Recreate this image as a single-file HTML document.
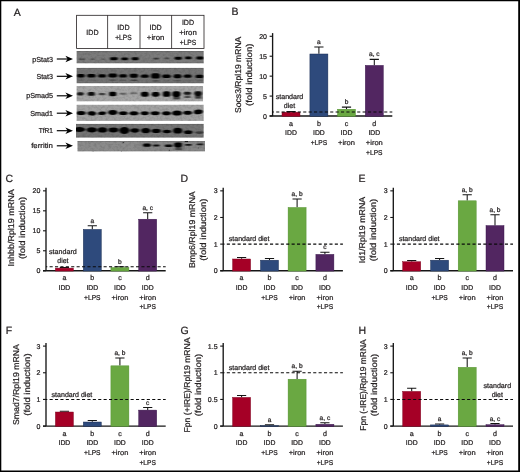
<!DOCTYPE html>
<html lang="en"><head><meta charset="utf-8"><title>Figure</title>
<style>html,body{margin:0;padding:0;background:#fff}svg{display:block}text{white-space:pre;stroke:#231f20;stroke-width:0.24px;paint-order:stroke;text-rendering:geometricPrecision}</style></head>
<body>
<svg width="520" height="472" viewBox="0 0 520 472" font-family='"Liberation Sans", sans-serif' fill="#231f20">
<defs>
</defs>
<rect x="0" y="0" width="520" height="472" fill="#fff"/>
<g opacity="0.999">
<text x="13.80" y="15.50" font-size="10.5" text-anchor="start">A</text>
<rect x="76.6" y="15.3" width="127.4" height="33.1" fill="#fff" stroke="#231f20" stroke-width="0.8"/>
<path d="M107.6 15.3V48.4" stroke="#231f20" stroke-width="0.8"/>
<path d="M140.0 15.3V48.4" stroke="#231f20" stroke-width="0.8"/>
<path d="M171.6 15.3V48.4" stroke="#231f20" stroke-width="0.8"/>
<text x="92.40" y="34.90" font-size="7.5" text-anchor="middle" textLength="12.2" lengthAdjust="spacingAndGlyphs">IDD</text>
<text x="123.40" y="30.03" font-size="7.5" text-anchor="middle" textLength="12.2" lengthAdjust="spacingAndGlyphs">IDD</text>
<text x="123.40" y="39.78" font-size="7.5" text-anchor="middle" textLength="16.4" lengthAdjust="spacingAndGlyphs">+LPS</text>
<text x="155.60" y="30.03" font-size="7.5" text-anchor="middle" textLength="12.2" lengthAdjust="spacingAndGlyphs">IDD</text>
<text x="155.60" y="39.78" font-size="7.5" text-anchor="middle" textLength="17.5" lengthAdjust="spacingAndGlyphs">+iron</text>
<text x="188.00" y="25.15" font-size="7.5" text-anchor="middle" textLength="12.2" lengthAdjust="spacingAndGlyphs">IDD</text>
<text x="188.00" y="34.90" font-size="7.5" text-anchor="middle" textLength="17.5" lengthAdjust="spacingAndGlyphs">+iron</text>
<text x="188.00" y="44.65" font-size="7.5" text-anchor="middle" textLength="16.4" lengthAdjust="spacingAndGlyphs">+LPS</text>
<filter id="grain" x="0" y="0" width="100%" height="100%"><feTurbulence type="fractalNoise" baseFrequency="0.35 0.45" numOctaves="2" seed="7" result="n"/><feColorMatrix in="n" type="matrix" values="0 0 0 0 0  0 0 0 0 0  0 0 0 0 0  0.9 0 0 0 -0.36"/></filter>
<filter id="smear" x="-20%" y="-100%" width="140%" height="300%"><feGaussianBlur stdDeviation="1.2 0.7"/></filter>
<filter id="fpStat3" x="-10%" y="-40%" width="120%" height="180%"><feGaussianBlur stdDeviation="0.85 0.6"/></filter>
<svg x="76.4" y="50.9" width="127.4" height="12.6" viewBox="76.4 50.9 127.4 12.6" overflow="hidden">
<rect x="76.4" y="50.9" width="127.4" height="12.6" fill="#7b7b7b"/>

<g filter="url(#fpStat3)">
<rect x="79.2" y="58.32" width="2.40" height="1.76" rx="0.88" fill="#000" opacity="0.5"/>
<rect x="82.4" y="58.32" width="2.20" height="1.76" rx="0.88" fill="#000" opacity="0.5"/>
<rect x="90.4" y="58.53" width="4.40" height="1.54" rx="0.77" fill="#000" opacity="0.28"/>
<rect x="101" y="58.53" width="4.40" height="1.54" rx="0.77" fill="#000" opacity="0.22"/>
<rect x="110.0" y="57.31" width="7.80" height="2.97" rx="1.49" fill="#000" opacity="1"/>
<rect x="121.2" y="57.42" width="7.00" height="2.75" rx="1.38" fill="#000" opacity="1"/>
<rect x="131.6" y="57.31" width="7.10" height="2.97" rx="1.49" fill="#000" opacity="1"/>
<rect x="144" y="58.14" width="4.00" height="1.32" rx="0.66" fill="#000" opacity="0.12"/>
<rect x="153.2" y="57.72" width="5.60" height="1.76" rx="0.88" fill="#000" opacity="0.55"/>
<rect x="164.2" y="57.57" width="5.20" height="1.65" rx="0.83" fill="#000" opacity="0.42"/>
<rect x="174.6" y="56.72" width="7.20" height="2.97" rx="1.49" fill="#000" opacity="1"/>
<rect x="185.0" y="56.52" width="6.60" height="2.75" rx="1.38" fill="#000" opacity="1"/>
<rect x="196.2" y="56.57" width="7.40" height="2.86" rx="1.43" fill="#000" opacity="1"/>
</g>
<rect x="76.4" y="50.9" width="127.4" height="12.6" fill="#000" filter="url(#grain)" opacity="0.3"/>
<rect x="76.4" y="50.9" width="127.4" height="0.9" fill="#000" opacity="0.13"/>
<rect x="76.4" y="62.60" width="127.4" height="0.9" fill="#000" opacity="0.12"/>
</svg>
<text x="53.00" y="61.50" font-size="7.2" text-anchor="end">pStat3</text>
<path d="M56.8 59.0H68" stroke="#000" stroke-width="1.15" fill="none"/>
<path d="M73.0 59.0L65.4 55.8L67.6 59.0L65.4 62.2Z" fill="#000"/>
<filter id="fStat3" x="-10%" y="-40%" width="120%" height="180%"><feGaussianBlur stdDeviation="0.95 0.55"/></filter>
<svg x="76.4" y="67.7" width="127.4" height="15.7" viewBox="76.4 67.7 127.4 15.7" overflow="hidden">
<rect x="76.4" y="67.7" width="127.4" height="15.7" fill="#747474"/>
<g filter="url(#smear)" fill="#000"><rect x="78" y="79.5" width="6" height="1.4" opacity="0.16"/><rect x="88.5" y="79.5" width="6.0" height="1.4" opacity="0.12"/><rect x="109.5" y="79.4" width="7.0" height="1.4" opacity="0.3"/><rect x="120" y="79.5" width="6.5" height="1.4" opacity="0.2"/><rect x="130.5" y="79.6" width="7.0" height="1.4" opacity="0.38"/><rect x="152" y="80.2" width="7.5" height="1.4" opacity="0.3"/><rect x="163" y="80" width="7" height="1.4" opacity="0.1"/><rect x="174.5" y="80" width="6.5" height="1.4" opacity="0.25"/><rect x="184.5" y="80" width="6.5" height="1.4" opacity="0.1"/><rect x="196" y="79.8" width="7" height="1.4" opacity="0.15"/><rect x="110" y="70.4" width="6" height="1.4" opacity="0.08"/><rect x="131" y="70.4" width="6" height="1.4" opacity="0.08"/><rect x="152" y="70.2" width="7" height="1.4" opacity="0.12"/></g>
<g filter="url(#fStat3)">
<rect x="76.9" y="74.08" width="7.80" height="3.43" rx="1.72" fill="#000" opacity="1"/>
<rect x="87.1" y="74.04" width="8.50" height="3.52" rx="1.76" fill="#000" opacity="1"/>
<rect x="98.2" y="74.27" width="7.80" height="3.26" rx="1.63" fill="#000" opacity="1"/>
<rect x="108.3" y="73.38" width="8.90" height="4.05" rx="2.02" fill="#000" opacity="1"/>
<rect x="119.1" y="74.23" width="7.90" height="3.34" rx="1.67" fill="#000" opacity="1"/>
<rect x="129.6" y="73.63" width="8.50" height="4.14" rx="2.07" fill="#000" opacity="1"/>
<rect x="140.9" y="74.62" width="7.80" height="3.17" rx="1.58" fill="#000" opacity="1"/>
<rect x="151.1" y="73.35" width="8.90" height="5.10" rx="2.55" fill="#000" opacity="1"/>
<rect x="162.2" y="74.44" width="8.50" height="3.52" rx="1.76" fill="#000" opacity="1"/>
<rect x="173.6" y="74.36" width="7.80" height="3.87" rx="1.94" fill="#000" opacity="1"/>
<rect x="183.8" y="74.53" width="7.80" height="3.34" rx="1.67" fill="#000" opacity="1"/>
<rect x="195.5" y="74.73" width="7.90" height="3.34" rx="1.67" fill="#000" opacity="1"/>
</g>
<rect x="76.4" y="67.7" width="127.4" height="15.7" fill="#000" filter="url(#grain)" opacity="0.3"/>
<rect x="76.4" y="67.7" width="127.4" height="0.9" fill="#000" opacity="0.13"/>
<rect x="76.4" y="82.50" width="127.4" height="0.9" fill="#000" opacity="0.12"/>
</svg>
<text x="53.00" y="78.80" font-size="7.2" text-anchor="end" textLength="16.6" lengthAdjust="spacingAndGlyphs">Stat3</text>
<path d="M56.8 76.3H68" stroke="#000" stroke-width="1.15" fill="none"/>
<path d="M73.0 76.3L65.4 73.1L67.6 76.3L65.4 79.5Z" fill="#000"/>
<filter id="fpSmad5" x="-10%" y="-40%" width="120%" height="180%"><feGaussianBlur stdDeviation="0.95 0.55"/></filter>
<svg x="76.4" y="86.0" width="126.8" height="15.6" viewBox="76.4 86.0 126.8 15.6" overflow="hidden">
<rect x="76.4" y="86.0" width="126.8" height="15.6" fill="#a6a6a6"/>
<g filter="url(#smear)" fill="#000"><rect x="173.2" y="97.0" width="6.800000000000011" height="2.4" opacity="0.6"/><rect x="184.5" y="95.6" width="6.0" height="2.4" opacity="0.55"/><rect x="195" y="95.6" width="6.5" height="3.0" opacity="0.65"/></g>
<g filter="url(#fpSmad5)">
<rect x="76.9" y="92.15" width="6.90" height="3.30" rx="1.65" fill="#000" opacity="0.85"/>
<rect x="87.7" y="92.05" width="7.20" height="3.70" rx="1.85" fill="#000" opacity="0.92"/>
<rect x="98.8" y="93.10" width="6.60" height="2.20" rx="1.10" fill="#000" opacity="0.6"/>
<rect x="109.0" y="91.65" width="7.50" height="4.50" rx="2.25" fill="#000" opacity="1"/>
<rect x="119.8" y="92.85" width="6.50" height="1.90" rx="0.95" fill="#000" opacity="0.4"/>
<rect x="130.2" y="92.25" width="7.20" height="1.90" rx="0.95" fill="#000" opacity="0.33"/>
<rect x="140.9" y="91.80" width="7.80" height="5.00" rx="2.50" fill="#000" opacity="1"/>
<rect x="151.7" y="91.90" width="7.90" height="4.80" rx="2.40" fill="#000" opacity="1"/>
<rect x="162.8" y="91.20" width="7.60" height="5.60" rx="2.60" fill="#000" opacity="1"/>
<rect x="172.3" y="91.30" width="8.20" height="5.60" rx="2.60" fill="#000" opacity="1"/>
<rect x="183.8" y="91.80" width="7.20" height="3.00" rx="1.50" fill="#000" opacity="0.85"/>
<rect x="194.2" y="91.20" width="7.80" height="4.80" rx="2.40" fill="#000" opacity="0.95"/>
</g>
<rect x="76.4" y="86.0" width="126.8" height="15.6" fill="#000" filter="url(#grain)" opacity="0.3"/>
</svg>
<text x="53.00" y="98.30" font-size="7.2" text-anchor="end">pSmad5</text>
<path d="M56.8 95.8H68" stroke="#000" stroke-width="1.15" fill="none"/>
<path d="M73.0 95.8L65.4 92.6L67.6 95.8L65.4 99.0Z" fill="#000"/>
<filter id="fSmad1" x="-10%" y="-40%" width="120%" height="180%"><feGaussianBlur stdDeviation="0.95 0.55"/></filter>
<svg x="76.4" y="104.6" width="127.4" height="16.3" viewBox="76.4 104.6 127.4 16.3" overflow="hidden">
<rect x="76.4" y="104.6" width="127.4" height="16.3" fill="#a2a2a2"/>

<g filter="url(#fSmad1)">
<ellipse cx="81.05" cy="113.1" rx="4.60" ry="2.00" fill="#000" opacity="1"/>
<ellipse cx="91.85" cy="113.4" rx="4.30" ry="2.16" fill="#000" opacity="1" transform="rotate(6 91.85 113.4)"/>
<ellipse cx="102.10" cy="113.3" rx="4.05" ry="1.73" fill="#000" opacity="1" transform="rotate(-5 102.10 113.3)"/>
<ellipse cx="112.75" cy="112.5" rx="4.60" ry="2.48" fill="#000" opacity="1"/>
<ellipse cx="123.25" cy="113.2" rx="4.30" ry="1.84" fill="#000" opacity="1"/>
<ellipse cx="133.95" cy="113.2" rx="4.50" ry="2.05" fill="#000" opacity="1"/>
<ellipse cx="144.80" cy="113.3" rx="4.05" ry="1.94" fill="#000" opacity="1"/>
<ellipse cx="155.20" cy="113.2" rx="4.55" ry="1.94" fill="#000" opacity="1"/>
<ellipse cx="166.45" cy="113.2" rx="4.40" ry="2.05" fill="#000" opacity="1"/>
<ellipse cx="177.05" cy="113.0" rx="4.90" ry="2.59" fill="#000" opacity="1"/>
<ellipse cx="187.70" cy="112.7" rx="4.35" ry="2.05" fill="#000" opacity="1"/>
<ellipse cx="198.35" cy="111.9" rx="4.50" ry="2.38" fill="#000" opacity="1" transform="rotate(-4 198.35 111.9)"/>
</g>
<rect x="76.4" y="104.6" width="127.4" height="16.3" fill="#000" filter="url(#grain)" opacity="0.3"/>
</svg>
<text x="53.00" y="115.70" font-size="7.2" text-anchor="end">Smad1</text>
<path d="M56.8 113.2H68" stroke="#000" stroke-width="1.15" fill="none"/>
<path d="M73.0 113.2L65.4 110.0L67.6 113.2L65.4 116.4Z" fill="#000"/>
<filter id="fTfR1" x="-10%" y="-40%" width="120%" height="180%"><feGaussianBlur stdDeviation="0.95 0.55"/></filter>
<svg x="76.0" y="123.7" width="127.8" height="14.0" viewBox="76.0 123.7 127.8 14.0" overflow="hidden">
<rect x="76.0" y="123.7" width="127.8" height="14.0" fill="#757575"/>

<g filter="url(#fTfR1)">
<ellipse cx="79.35" cy="129.4" rx="5.85" ry="2.48" fill="#000" opacity="1"/>
<ellipse cx="91.80" cy="129.9" rx="5.20" ry="2.70" fill="#000" opacity="1"/>
<ellipse cx="102.45" cy="129.9" rx="4.75" ry="2.59" fill="#000" opacity="1"/>
<ellipse cx="113.40" cy="130.0" rx="4.90" ry="2.38" fill="#000" opacity="1"/>
<ellipse cx="124.35" cy="130.5" rx="5.05" ry="3.46" fill="#000" opacity="1"/>
<ellipse cx="134.80" cy="130.5" rx="4.40" ry="2.16" fill="#000" opacity="1"/>
<ellipse cx="145.75" cy="130.6" rx="4.55" ry="2.70" fill="#000" opacity="1"/>
<ellipse cx="156.15" cy="130.9" rx="4.55" ry="2.16" fill="#000" opacity="1"/>
<ellipse cx="166.90" cy="131.5" rx="4.30" ry="1.73" fill="#000" opacity="1"/>
<ellipse cx="177.70" cy="130.7" rx="4.60" ry="2.92" fill="#000" opacity="1"/>
<ellipse cx="188.15" cy="132.2" rx="4.25" ry="1.84" fill="#000" opacity="1"/>
<ellipse cx="199.45" cy="132.6" rx="4.45" ry="1.30" fill="#000" opacity="0.5"/>
</g>
<rect x="76.0" y="123.7" width="127.8" height="14.0" fill="#000" filter="url(#grain)" opacity="0.3"/>
<rect x="76.0" y="123.7" width="127.8" height="0.9" fill="#000" opacity="0.13"/>
<rect x="76.0" y="136.80" width="127.8" height="0.9" fill="#000" opacity="0.12"/>
</svg>
<text x="53.00" y="133.20" font-size="7.2" text-anchor="end" textLength="14.3" lengthAdjust="spacingAndGlyphs">TfR1</text>
<path d="M56.8 130.7H68" stroke="#000" stroke-width="1.15" fill="none"/>
<path d="M73.0 130.7L65.4 127.49999999999999L67.6 130.7L65.4 133.89999999999998Z" fill="#000"/>
<filter id="fferritin" x="-10%" y="-40%" width="120%" height="180%"><feGaussianBlur stdDeviation="0.95 0.55"/></filter>
<svg x="77.3" y="140.9" width="127.7" height="10.7" viewBox="77.3 140.9 127.7 10.7" overflow="hidden">
<rect x="77.3" y="140.9" width="127.7" height="10.7" fill="#878787"/>
<rect x="77.3" y="140.9" width="60" height="10.7" fill="#fff" opacity="0.04"/><g fill="#111"><rect x="184.8" y="141.1" width="3.2" height="1.0" opacity="0.95"/><rect x="122.6" y="142.0" width="1.6" height="1.2" opacity="0.6"/><rect x="92.4" y="150.9" width="1.4" height="0.8" opacity="0.6"/><rect x="120.8" y="150.9" width="1.2" height="0.8" opacity="0.6"/><rect x="168.8" y="149.8" width="1.2" height="1.0" opacity="0.5"/><rect x="197.8" y="147.5" width="1.0" height="1.0" opacity="0.5"/><rect x="183.6" y="145.5" width="0.9" height="4.0" opacity="0.25"/></g><g filter="url(#smear)"><rect x="175" y="147.6" width="7" height="2.4" fill="#000" opacity="0.45"/></g>
<g filter="url(#fferritin)">
<rect x="143.0" y="143.58" width="7.80" height="3.23" rx="1.61" fill="#000" opacity="1"/>
<rect x="153.0" y="144.55" width="6.60" height="1.90" rx="0.95" fill="#000" opacity="0.9"/>
<rect x="164.8" y="144.56" width="7.50" height="2.47" rx="1.23" fill="#000" opacity="0.95"/>
<rect x="174.0" y="142.53" width="8.20" height="4.94" rx="2.47" fill="#000" opacity="1"/>
<rect x="185.0" y="143.90" width="6.90" height="1.80" rx="0.90" fill="#000" opacity="0.85"/>
<rect x="196.6" y="143.40" width="6.80" height="1.80" rx="0.90" fill="#000" opacity="0.8"/>
</g>
<rect x="77.3" y="140.9" width="127.7" height="10.7" fill="#000" filter="url(#grain)" opacity="0.3"/>
<rect x="77.3" y="140.9" width="127.7" height="0.9" fill="#000" opacity="0.13"/>
<rect x="77.3" y="150.70" width="127.7" height="0.9" fill="#000" opacity="0.12"/>
</svg>
<text x="53.00" y="148.30" font-size="7.2" text-anchor="end" textLength="21.8" lengthAdjust="spacingAndGlyphs">ferritin</text>
<path d="M56.8 145.8H68" stroke="#000" stroke-width="1.15" fill="none"/>
<path d="M73.0 145.8L65.4 142.60000000000002L67.6 145.8L65.4 149.0Z" fill="#000"/>
<text x="231.60" y="15.40" font-size="10.5" text-anchor="start">B</text>
<path d="M291.00 111.94V111.46M286.40 111.46H295.60" stroke="#141414" stroke-width="1.05" fill="none"/>
<text x="291.00" y="125.55" font-size="7.1" text-anchor="middle">a</text>
<text x="291.00" y="135.20" font-size="7.1" text-anchor="middle" textLength="11.8" lengthAdjust="spacingAndGlyphs">IDD</text>
<path d="M318.90 53.79V47.02M314.30 47.02H323.50" stroke="#141414" stroke-width="1.05" fill="none"/>
<text x="318.90" y="44.12" font-size="6.6" text-anchor="middle">a</text>
<text x="318.90" y="125.55" font-size="7.1" text-anchor="middle">b</text>
<text x="318.90" y="135.20" font-size="7.1" text-anchor="middle" textLength="11.8" lengthAdjust="spacingAndGlyphs">IDD</text>
<text x="318.90" y="144.85" font-size="7.1" text-anchor="middle" textLength="16.4" lengthAdjust="spacingAndGlyphs">+LPS</text>
<path d="M346.50 109.03V107.11M341.90 107.11H351.10" stroke="#141414" stroke-width="1.05" fill="none"/>
<text x="346.50" y="104.21" font-size="6.6" text-anchor="middle">b</text>
<text x="346.50" y="125.55" font-size="7.1" text-anchor="middle">c</text>
<text x="346.50" y="135.20" font-size="7.1" text-anchor="middle" textLength="11.8" lengthAdjust="spacingAndGlyphs">IDD</text>
<text x="346.50" y="144.85" font-size="7.1" text-anchor="middle" textLength="16.9" lengthAdjust="spacingAndGlyphs">+iron</text>
<path d="M374.30 65.19V59.39M369.70 59.39H378.90" stroke="#141414" stroke-width="1.05" fill="none"/>
<text x="374.30" y="56.49" font-size="6.6" text-anchor="middle">a, c</text>
<text x="374.30" y="125.55" font-size="7.1" text-anchor="middle">d</text>
<text x="374.30" y="135.20" font-size="7.1" text-anchor="middle" textLength="11.8" lengthAdjust="spacingAndGlyphs">IDD</text>
<text x="374.30" y="144.85" font-size="7.1" text-anchor="middle" textLength="16.9" lengthAdjust="spacingAndGlyphs">+iron</text>
<text x="374.30" y="154.50" font-size="7.1" text-anchor="middle" textLength="16.4" lengthAdjust="spacingAndGlyphs">+LPS</text>
<path d="M272.60 33.10V116.00" stroke="#161616" stroke-width="1.35" fill="none"/>
<path d="M269.60 116.00H392.30" stroke="#161616" stroke-width="1.35" fill="none"/>
<rect x="282.00" y="112.14" width="18.0" height="4.16" fill="#a50026" stroke="#7a001e" stroke-width="0.45"/>
<rect x="309.90" y="53.99" width="18.0" height="62.31" fill="#2e4a7c" stroke="#16284f" stroke-width="0.45"/>
<rect x="337.50" y="109.23" width="18.0" height="7.07" fill="#6aa842" stroke="#4f8f2c" stroke-width="0.45"/>
<rect x="365.30" y="65.39" width="18.0" height="50.91" fill="#522661" stroke="#36134a" stroke-width="0.45"/>
<path d="M272.60 112.02H392.30" stroke="#0a0a0a" stroke-width="1.05" stroke-dasharray="3.1 2.3" stroke-dashoffset="1.8" fill="none"/>
<path d="M269.60 116.00H272.60" stroke="#161616" stroke-width="1.1" fill="none"/>
<text x="267.00" y="118.50" font-size="7.0" text-anchor="end">0</text>
<path d="M269.60 96.08H272.60" stroke="#161616" stroke-width="1.1" fill="none"/>
<text x="267.00" y="98.58" font-size="7.0" text-anchor="end">5</text>
<path d="M269.60 76.15H272.60" stroke="#161616" stroke-width="1.1" fill="none"/>
<text x="267.00" y="78.65" font-size="7.0" text-anchor="end">10</text>
<path d="M269.60 56.22H272.60" stroke="#161616" stroke-width="1.1" fill="none"/>
<text x="267.00" y="58.72" font-size="7.0" text-anchor="end">15</text>
<path d="M269.60 36.30H272.60" stroke="#161616" stroke-width="1.1" fill="none"/>
<text x="267.00" y="38.80" font-size="7.0" text-anchor="end">20</text>
<text transform="translate(241.20 74.80) rotate(-90)" font-size="8.5" text-anchor="middle" textLength="76.2" lengthAdjust="spacingAndGlyphs">Socs3/Rpl19 mRNA</text>
<text transform="translate(252.20 74.80) rotate(-90)" font-size="8.5" text-anchor="middle" textLength="62.3" lengthAdjust="spacingAndGlyphs">(fold induction)</text>
<text x="289.50" y="99.31" font-size="7" text-anchor="middle" textLength="27.7" lengthAdjust="spacingAndGlyphs">standard</text>
<text x="289.50" y="108.11" font-size="7" text-anchor="middle">diet</text>
<text x="5.40" y="181.70" font-size="10.5" text-anchor="start">C</text>
<path d="M64.40 267.91V267.59M59.80 267.59H69.00" stroke="#141414" stroke-width="1.05" fill="none"/>
<text x="64.40" y="280.30" font-size="7.1" text-anchor="middle">a</text>
<text x="64.40" y="289.95" font-size="7.1" text-anchor="middle" textLength="11.8" lengthAdjust="spacingAndGlyphs">IDD</text>
<path d="M92.30 229.20V225.81M87.70 225.81H96.90" stroke="#141414" stroke-width="1.05" fill="none"/>
<text x="92.30" y="222.91" font-size="6.6" text-anchor="middle">a</text>
<text x="92.30" y="280.30" font-size="7.1" text-anchor="middle">b</text>
<text x="92.30" y="289.95" font-size="7.1" text-anchor="middle" textLength="11.8" lengthAdjust="spacingAndGlyphs">IDD</text>
<text x="92.30" y="299.60" font-size="7.1" text-anchor="middle" textLength="16.4" lengthAdjust="spacingAndGlyphs">+LPS</text>
<path d="M119.90 267.31V266.72M115.30 266.72H124.50" stroke="#141414" stroke-width="1.05" fill="none"/>
<text x="119.90" y="263.82" font-size="6.6" text-anchor="middle">b</text>
<text x="119.90" y="280.30" font-size="7.1" text-anchor="middle">c</text>
<text x="119.90" y="289.95" font-size="7.1" text-anchor="middle" textLength="11.8" lengthAdjust="spacingAndGlyphs">IDD</text>
<text x="119.90" y="299.60" font-size="7.1" text-anchor="middle" textLength="16.9" lengthAdjust="spacingAndGlyphs">+iron</text>
<path d="M147.70 219.01V212.71M143.10 212.71H152.30" stroke="#141414" stroke-width="1.05" fill="none"/>
<text x="147.70" y="209.81" font-size="6.6" text-anchor="middle">a, c</text>
<text x="147.70" y="280.30" font-size="7.1" text-anchor="middle">d</text>
<text x="147.70" y="289.95" font-size="7.1" text-anchor="middle" textLength="11.8" lengthAdjust="spacingAndGlyphs">IDD</text>
<text x="147.70" y="299.60" font-size="7.1" text-anchor="middle" textLength="16.9" lengthAdjust="spacingAndGlyphs">+iron</text>
<text x="147.70" y="309.25" font-size="7.1" text-anchor="middle" textLength="16.4" lengthAdjust="spacingAndGlyphs">+LPS</text>
<path d="M46.00 187.70V270.75" stroke="#161616" stroke-width="1.35" fill="none"/>
<path d="M43.00 270.75H165.70" stroke="#161616" stroke-width="1.35" fill="none"/>
<rect x="55.40" y="268.11" width="18.0" height="2.94" fill="#a50026" stroke="#7a001e" stroke-width="0.45"/>
<rect x="83.30" y="229.40" width="18.0" height="41.65" fill="#2e4a7c" stroke="#16284f" stroke-width="0.45"/>
<rect x="110.90" y="267.51" width="18.0" height="3.54" fill="#6aa842" stroke="#4f8f2c" stroke-width="0.45"/>
<rect x="138.70" y="219.21" width="18.0" height="51.84" fill="#522661" stroke="#36134a" stroke-width="0.45"/>
<path d="M46.00 266.75H165.70" stroke="#0a0a0a" stroke-width="1.05" stroke-dasharray="3.1 2.3" stroke-dashoffset="1.8" fill="none"/>
<path d="M43.00 270.75H46.00" stroke="#161616" stroke-width="1.1" fill="none"/>
<text x="40.40" y="273.25" font-size="7.0" text-anchor="end">0</text>
<path d="M43.00 250.78H46.00" stroke="#161616" stroke-width="1.1" fill="none"/>
<text x="40.40" y="253.28" font-size="7.0" text-anchor="end">5</text>
<path d="M43.00 230.80H46.00" stroke="#161616" stroke-width="1.1" fill="none"/>
<text x="40.40" y="233.30" font-size="7.0" text-anchor="end">10</text>
<path d="M43.00 210.82H46.00" stroke="#161616" stroke-width="1.1" fill="none"/>
<text x="40.40" y="213.32" font-size="7.0" text-anchor="end">15</text>
<path d="M43.00 190.85H46.00" stroke="#161616" stroke-width="1.1" fill="none"/>
<text x="40.40" y="193.35" font-size="7.0" text-anchor="end">20</text>
<text transform="translate(13.90 227.90) rotate(-90)" font-size="8.5" text-anchor="middle" textLength="77.4" lengthAdjust="spacingAndGlyphs">Inhbb/Rpl19 mRNA</text>
<text transform="translate(24.90 227.90) rotate(-90)" font-size="8.5" text-anchor="middle" textLength="62.3" lengthAdjust="spacingAndGlyphs">(fold induction)</text>
<text x="62.90" y="254.06" font-size="7" text-anchor="middle" textLength="27.7" lengthAdjust="spacingAndGlyphs">standard</text>
<text x="62.90" y="262.86" font-size="7" text-anchor="middle">diet</text>
<text x="180.60" y="181.70" font-size="10.5" text-anchor="start">D</text>
<path d="M241.60 258.79V257.49M237.00 257.49H246.20" stroke="#141414" stroke-width="1.05" fill="none"/>
<text x="241.60" y="280.30" font-size="7.1" text-anchor="middle">a</text>
<text x="241.60" y="289.95" font-size="7.1" text-anchor="middle" textLength="11.8" lengthAdjust="spacingAndGlyphs">IDD</text>
<path d="M269.50 259.99V258.50M264.90 258.50H274.10" stroke="#141414" stroke-width="1.05" fill="none"/>
<text x="269.50" y="280.30" font-size="7.1" text-anchor="middle">b</text>
<text x="269.50" y="289.95" font-size="7.1" text-anchor="middle" textLength="11.8" lengthAdjust="spacingAndGlyphs">IDD</text>
<text x="269.50" y="299.60" font-size="7.1" text-anchor="middle" textLength="16.4" lengthAdjust="spacingAndGlyphs">+LPS</text>
<path d="M297.10 207.28V198.97M292.50 198.97H301.70" stroke="#141414" stroke-width="1.05" fill="none"/>
<text x="297.10" y="196.07" font-size="6.6" text-anchor="middle">a, b</text>
<text x="297.10" y="280.30" font-size="7.1" text-anchor="middle">c</text>
<text x="297.10" y="289.95" font-size="7.1" text-anchor="middle" textLength="11.8" lengthAdjust="spacingAndGlyphs">IDD</text>
<text x="297.10" y="299.60" font-size="7.1" text-anchor="middle" textLength="16.9" lengthAdjust="spacingAndGlyphs">+iron</text>
<path d="M324.90 254.20V252.31M320.30 252.31H329.50" stroke="#141414" stroke-width="1.05" fill="none"/>
<text x="324.90" y="249.41" font-size="6.6" text-anchor="middle">c</text>
<text x="324.90" y="280.30" font-size="7.1" text-anchor="middle">d</text>
<text x="324.90" y="289.95" font-size="7.1" text-anchor="middle" textLength="11.8" lengthAdjust="spacingAndGlyphs">IDD</text>
<text x="324.90" y="299.60" font-size="7.1" text-anchor="middle" textLength="16.9" lengthAdjust="spacingAndGlyphs">+iron</text>
<text x="324.90" y="309.25" font-size="7.1" text-anchor="middle" textLength="16.4" lengthAdjust="spacingAndGlyphs">+LPS</text>
<path d="M223.20 187.70V270.75" stroke="#161616" stroke-width="1.35" fill="none"/>
<path d="M220.20 270.75H342.90" stroke="#161616" stroke-width="1.35" fill="none"/>
<rect x="232.60" y="258.99" width="18.0" height="12.06" fill="#a50026" stroke="#7a001e" stroke-width="0.45"/>
<rect x="260.50" y="260.19" width="18.0" height="10.86" fill="#2e4a7c" stroke="#16284f" stroke-width="0.45"/>
<rect x="288.10" y="207.48" width="18.0" height="63.57" fill="#6aa842" stroke="#4f8f2c" stroke-width="0.45"/>
<rect x="315.90" y="254.40" width="18.0" height="16.65" fill="#522661" stroke="#36134a" stroke-width="0.45"/>
<path d="M223.20 244.12H342.90" stroke="#0a0a0a" stroke-width="1.05" stroke-dasharray="3.1 2.3" stroke-dashoffset="1.8" fill="none"/>
<path d="M220.20 270.75H223.20" stroke="#161616" stroke-width="1.1" fill="none"/>
<text x="217.60" y="273.25" font-size="7.0" text-anchor="end">0</text>
<path d="M220.20 244.12H223.20" stroke="#161616" stroke-width="1.1" fill="none"/>
<text x="217.60" y="246.62" font-size="7.0" text-anchor="end">1</text>
<path d="M220.20 217.48H223.20" stroke="#161616" stroke-width="1.1" fill="none"/>
<text x="217.60" y="219.98" font-size="7.0" text-anchor="end">2</text>
<path d="M220.20 190.85H223.20" stroke="#161616" stroke-width="1.1" fill="none"/>
<text x="217.60" y="193.35" font-size="7.0" text-anchor="end">3</text>
<text transform="translate(195.40 229.70) rotate(-90)" font-size="8.5" text-anchor="middle" textLength="76.7" lengthAdjust="spacingAndGlyphs">Bmp6/Rpl19 mRNA</text>
<text transform="translate(206.40 229.70) rotate(-90)" font-size="8.5" text-anchor="middle" textLength="62.3" lengthAdjust="spacingAndGlyphs">(fold induction)</text>
<text x="228.80" y="241.22" font-size="7" text-anchor="start" textLength="40.7" lengthAdjust="spacingAndGlyphs">standard diet</text>
<text x="358.60" y="181.70" font-size="10.5" text-anchor="start">E</text>
<path d="M411.70 261.51V260.42M407.10 260.42H416.30" stroke="#141414" stroke-width="1.05" fill="none"/>
<text x="411.70" y="280.30" font-size="7.1" text-anchor="middle">a</text>
<text x="411.70" y="289.95" font-size="7.1" text-anchor="middle" textLength="11.8" lengthAdjust="spacingAndGlyphs">IDD</text>
<path d="M439.60 259.99V258.50M435.00 258.50H444.20" stroke="#141414" stroke-width="1.05" fill="none"/>
<text x="439.60" y="280.30" font-size="7.1" text-anchor="middle">b</text>
<text x="439.60" y="289.95" font-size="7.1" text-anchor="middle" textLength="11.8" lengthAdjust="spacingAndGlyphs">IDD</text>
<text x="439.60" y="299.60" font-size="7.1" text-anchor="middle" textLength="16.4" lengthAdjust="spacingAndGlyphs">+LPS</text>
<path d="M467.20 200.60V194.79M462.60 194.79H471.80" stroke="#141414" stroke-width="1.05" fill="none"/>
<text x="467.20" y="191.89" font-size="6.6" text-anchor="middle">a, b</text>
<text x="467.20" y="280.30" font-size="7.1" text-anchor="middle">c</text>
<text x="467.20" y="289.95" font-size="7.1" text-anchor="middle" textLength="11.8" lengthAdjust="spacingAndGlyphs">IDD</text>
<text x="467.20" y="299.60" font-size="7.1" text-anchor="middle" textLength="16.9" lengthAdjust="spacingAndGlyphs">+iron</text>
<path d="M495.00 225.39V214.79M490.40 214.79H499.60" stroke="#141414" stroke-width="1.05" fill="none"/>
<text x="495.00" y="211.89" font-size="6.6" text-anchor="middle">a, b</text>
<text x="495.00" y="280.30" font-size="7.1" text-anchor="middle">d</text>
<text x="495.00" y="289.95" font-size="7.1" text-anchor="middle" textLength="11.8" lengthAdjust="spacingAndGlyphs">IDD</text>
<text x="495.00" y="299.60" font-size="7.1" text-anchor="middle" textLength="16.9" lengthAdjust="spacingAndGlyphs">+iron</text>
<text x="495.00" y="309.25" font-size="7.1" text-anchor="middle" textLength="16.4" lengthAdjust="spacingAndGlyphs">+LPS</text>
<path d="M393.30 187.70V270.75" stroke="#161616" stroke-width="1.35" fill="none"/>
<path d="M390.30 270.75H513.00" stroke="#161616" stroke-width="1.35" fill="none"/>
<rect x="402.70" y="261.71" width="18.0" height="9.34" fill="#a50026" stroke="#7a001e" stroke-width="0.45"/>
<rect x="430.60" y="260.19" width="18.0" height="10.86" fill="#2e4a7c" stroke="#16284f" stroke-width="0.45"/>
<rect x="458.20" y="200.80" width="18.0" height="70.25" fill="#6aa842" stroke="#4f8f2c" stroke-width="0.45"/>
<rect x="486.00" y="225.59" width="18.0" height="45.46" fill="#522661" stroke="#36134a" stroke-width="0.45"/>
<path d="M393.30 244.12H513.00" stroke="#0a0a0a" stroke-width="1.05" stroke-dasharray="3.1 2.3" stroke-dashoffset="1.8" fill="none"/>
<path d="M390.30 270.75H393.30" stroke="#161616" stroke-width="1.1" fill="none"/>
<text x="387.70" y="273.25" font-size="7.0" text-anchor="end">0</text>
<path d="M390.30 244.12H393.30" stroke="#161616" stroke-width="1.1" fill="none"/>
<text x="387.70" y="246.62" font-size="7.0" text-anchor="end">1</text>
<path d="M390.30 217.48H393.30" stroke="#161616" stroke-width="1.1" fill="none"/>
<text x="387.70" y="219.98" font-size="7.0" text-anchor="end">2</text>
<path d="M390.30 190.85H393.30" stroke="#161616" stroke-width="1.1" fill="none"/>
<text x="387.70" y="193.35" font-size="7.0" text-anchor="end">3</text>
<text transform="translate(365.40 230.00) rotate(-90)" font-size="8.5" text-anchor="middle" textLength="66.4" lengthAdjust="spacingAndGlyphs">Id1/Rpl19 mRNA</text>
<text transform="translate(376.40 230.00) rotate(-90)" font-size="8.5" text-anchor="middle" textLength="62.3" lengthAdjust="spacingAndGlyphs">(fold induction)</text>
<text x="398.90" y="241.22" font-size="7" text-anchor="start" textLength="40.7" lengthAdjust="spacingAndGlyphs">standard diet</text>
<text x="5.80" y="333.50" font-size="10.5" text-anchor="start">F</text>
<path d="M64.40 411.81V411.30M59.80 411.30H69.00" stroke="#141414" stroke-width="1.05" fill="none"/>
<text x="64.40" y="435.65" font-size="7.1" text-anchor="middle">a</text>
<text x="64.40" y="445.30" font-size="7.1" text-anchor="middle" textLength="11.8" lengthAdjust="spacingAndGlyphs">IDD</text>
<path d="M92.30 421.81V420.50M87.70 420.50H96.90" stroke="#141414" stroke-width="1.05" fill="none"/>
<text x="92.30" y="435.65" font-size="7.1" text-anchor="middle">b</text>
<text x="92.30" y="445.30" font-size="7.1" text-anchor="middle" textLength="11.8" lengthAdjust="spacingAndGlyphs">IDD</text>
<text x="92.30" y="454.95" font-size="7.1" text-anchor="middle" textLength="16.4" lengthAdjust="spacingAndGlyphs">+LPS</text>
<path d="M119.90 365.62V357.91M115.30 357.91H124.50" stroke="#141414" stroke-width="1.05" fill="none"/>
<text x="119.90" y="355.01" font-size="6.6" text-anchor="middle">a, b</text>
<text x="119.90" y="435.65" font-size="7.1" text-anchor="middle">c</text>
<text x="119.90" y="445.30" font-size="7.1" text-anchor="middle" textLength="11.8" lengthAdjust="spacingAndGlyphs">IDD</text>
<text x="119.90" y="454.95" font-size="7.1" text-anchor="middle" textLength="16.9" lengthAdjust="spacingAndGlyphs">+iron</text>
<path d="M147.70 409.91V407.41M143.10 407.41H152.30" stroke="#141414" stroke-width="1.05" fill="none"/>
<text x="147.70" y="404.51" font-size="6.6" text-anchor="middle">c</text>
<text x="147.70" y="435.65" font-size="7.1" text-anchor="middle">d</text>
<text x="147.70" y="445.30" font-size="7.1" text-anchor="middle" textLength="11.8" lengthAdjust="spacingAndGlyphs">IDD</text>
<text x="147.70" y="454.95" font-size="7.1" text-anchor="middle" textLength="16.9" lengthAdjust="spacingAndGlyphs">+iron</text>
<text x="147.70" y="464.60" font-size="7.1" text-anchor="middle" textLength="16.4" lengthAdjust="spacingAndGlyphs">+LPS</text>
<path d="M46.00 343.00V426.10" stroke="#161616" stroke-width="1.35" fill="none"/>
<path d="M43.00 426.10H165.70" stroke="#161616" stroke-width="1.35" fill="none"/>
<rect x="55.40" y="412.01" width="18.0" height="14.39" fill="#a50026" stroke="#7a001e" stroke-width="0.45"/>
<rect x="83.30" y="422.01" width="18.0" height="4.39" fill="#2e4a7c" stroke="#16284f" stroke-width="0.45"/>
<rect x="110.90" y="365.82" width="18.0" height="60.58" fill="#6aa842" stroke="#4f8f2c" stroke-width="0.45"/>
<rect x="138.70" y="410.11" width="18.0" height="16.29" fill="#522661" stroke="#36134a" stroke-width="0.45"/>
<path d="M46.00 399.43H165.70" stroke="#0a0a0a" stroke-width="1.05" stroke-dasharray="3.1 2.3" stroke-dashoffset="1.8" fill="none"/>
<path d="M43.00 426.10H46.00" stroke="#161616" stroke-width="1.1" fill="none"/>
<text x="40.40" y="428.60" font-size="7.0" text-anchor="end">0</text>
<path d="M43.00 399.43H46.00" stroke="#161616" stroke-width="1.1" fill="none"/>
<text x="40.40" y="401.93" font-size="7.0" text-anchor="end">1</text>
<path d="M43.00 372.77H46.00" stroke="#161616" stroke-width="1.1" fill="none"/>
<text x="40.40" y="375.27" font-size="7.0" text-anchor="end">2</text>
<path d="M43.00 346.10H46.00" stroke="#161616" stroke-width="1.1" fill="none"/>
<text x="40.40" y="348.60" font-size="7.0" text-anchor="end">3</text>
<text transform="translate(18.80 384.60) rotate(-90)" font-size="8.5" text-anchor="middle" textLength="80.7" lengthAdjust="spacingAndGlyphs">Smad7/Rpl19 mRNA</text>
<text transform="translate(29.80 384.60) rotate(-90)" font-size="8.5" text-anchor="middle" textLength="62.3" lengthAdjust="spacingAndGlyphs">(fold induction)</text>
<text x="51.60" y="396.53" font-size="7" text-anchor="start" textLength="40.7" lengthAdjust="spacingAndGlyphs">standard diet</text>
<text x="180.60" y="333.50" font-size="10.5" text-anchor="start">G</text>
<path d="M241.60 397.19V395.49M237.00 395.49H246.20" stroke="#141414" stroke-width="1.05" fill="none"/>
<text x="241.60" y="435.65" font-size="7.1" text-anchor="middle">a</text>
<text x="241.60" y="445.30" font-size="7.1" text-anchor="middle" textLength="11.8" lengthAdjust="spacingAndGlyphs">IDD</text>
<path d="M269.50 425.46V424.82M264.90 424.82H274.10" stroke="#141414" stroke-width="1.05" fill="none"/>
<text x="269.50" y="421.92" font-size="6.6" text-anchor="middle">a</text>
<text x="269.50" y="435.65" font-size="7.1" text-anchor="middle">b</text>
<text x="269.50" y="445.30" font-size="7.1" text-anchor="middle" textLength="11.8" lengthAdjust="spacingAndGlyphs">IDD</text>
<text x="269.50" y="454.95" font-size="7.1" text-anchor="middle" textLength="16.4" lengthAdjust="spacingAndGlyphs">+LPS</text>
<path d="M297.10 379.01V371.33M292.50 371.33H301.70" stroke="#141414" stroke-width="1.05" fill="none"/>
<text x="297.10" y="368.43" font-size="6.6" text-anchor="middle">a, b</text>
<text x="297.10" y="435.65" font-size="7.1" text-anchor="middle">c</text>
<text x="297.10" y="445.30" font-size="7.1" text-anchor="middle" textLength="11.8" lengthAdjust="spacingAndGlyphs">IDD</text>
<text x="297.10" y="454.95" font-size="7.1" text-anchor="middle" textLength="16.9" lengthAdjust="spacingAndGlyphs">+iron</text>
<path d="M324.90 424.10V422.82M320.30 422.82H329.50" stroke="#141414" stroke-width="1.05" fill="none"/>
<text x="324.90" y="419.92" font-size="6.6" text-anchor="middle">a, c</text>
<text x="324.90" y="435.65" font-size="7.1" text-anchor="middle">d</text>
<text x="324.90" y="445.30" font-size="7.1" text-anchor="middle" textLength="11.8" lengthAdjust="spacingAndGlyphs">IDD</text>
<text x="324.90" y="454.95" font-size="7.1" text-anchor="middle" textLength="16.9" lengthAdjust="spacingAndGlyphs">+iron</text>
<text x="324.90" y="464.60" font-size="7.1" text-anchor="middle" textLength="16.4" lengthAdjust="spacingAndGlyphs">+LPS</text>
<path d="M223.20 343.00V426.10" stroke="#161616" stroke-width="1.35" fill="none"/>
<path d="M220.20 426.10H342.90" stroke="#161616" stroke-width="1.35" fill="none"/>
<rect x="232.60" y="397.39" width="18.0" height="29.01" fill="#a50026" stroke="#7a001e" stroke-width="0.45"/>
<rect x="260.50" y="425.66" width="18.0" height="0.74" fill="#2e4a7c" stroke="#16284f" stroke-width="0.45"/>
<rect x="288.10" y="379.21" width="18.0" height="47.19" fill="#6aa842" stroke="#4f8f2c" stroke-width="0.45"/>
<rect x="315.90" y="424.30" width="18.0" height="2.10" fill="#522661" stroke="#36134a" stroke-width="0.45"/>
<path d="M223.20 372.77H342.90" stroke="#0a0a0a" stroke-width="1.05" stroke-dasharray="3.1 2.3" stroke-dashoffset="1.8" fill="none"/>
<path d="M220.20 426.10H223.20" stroke="#161616" stroke-width="1.1" fill="none"/>
<text x="217.60" y="428.60" font-size="7.0" text-anchor="end">0</text>
<path d="M220.20 399.43H223.20" stroke="#161616" stroke-width="1.1" fill="none"/>
<text x="217.60" y="401.93" font-size="7.0" text-anchor="end">0.5</text>
<path d="M220.20 372.77H223.20" stroke="#161616" stroke-width="1.1" fill="none"/>
<text x="217.60" y="375.27" font-size="7.0" text-anchor="end">1</text>
<path d="M220.20 346.10H223.20" stroke="#161616" stroke-width="1.1" fill="none"/>
<text x="217.60" y="348.60" font-size="7.0" text-anchor="end">1.5</text>
<text transform="translate(189.70 385.00) rotate(-90)" font-size="8.5" text-anchor="middle" textLength="94.9" lengthAdjust="spacingAndGlyphs">Fpn (+IRE)/Rpl19 mRNA</text>
<text transform="translate(200.70 385.00) rotate(-90)" font-size="8.5" text-anchor="middle" textLength="62.3" lengthAdjust="spacingAndGlyphs">(fold induction)</text>
<text x="228.80" y="369.87" font-size="7" text-anchor="start" textLength="40.7" lengthAdjust="spacingAndGlyphs">standard diet</text>
<text x="358.60" y="333.50" font-size="10.5" text-anchor="start">H</text>
<path d="M411.70 391.19V388.29M407.10 388.29H416.30" stroke="#141414" stroke-width="1.05" fill="none"/>
<text x="411.70" y="435.65" font-size="7.1" text-anchor="middle">a</text>
<text x="411.70" y="445.30" font-size="7.1" text-anchor="middle" textLength="11.8" lengthAdjust="spacingAndGlyphs">IDD</text>
<path d="M439.60 424.70V423.90M435.00 423.90H444.20" stroke="#141414" stroke-width="1.05" fill="none"/>
<text x="439.60" y="421.00" font-size="6.6" text-anchor="middle">a</text>
<text x="439.60" y="435.65" font-size="7.1" text-anchor="middle">b</text>
<text x="439.60" y="445.30" font-size="7.1" text-anchor="middle" textLength="11.8" lengthAdjust="spacingAndGlyphs">IDD</text>
<text x="439.60" y="454.95" font-size="7.1" text-anchor="middle" textLength="16.4" lengthAdjust="spacingAndGlyphs">+LPS</text>
<path d="M467.20 367.11V357.91M462.60 357.91H471.80" stroke="#141414" stroke-width="1.05" fill="none"/>
<text x="467.20" y="355.01" font-size="6.6" text-anchor="middle">a, b</text>
<text x="467.20" y="435.65" font-size="7.1" text-anchor="middle">c</text>
<text x="467.20" y="445.30" font-size="7.1" text-anchor="middle" textLength="11.8" lengthAdjust="spacingAndGlyphs">IDD</text>
<text x="467.20" y="454.95" font-size="7.1" text-anchor="middle" textLength="16.9" lengthAdjust="spacingAndGlyphs">+iron</text>
<path d="M495.00 424.50V423.57M490.40 423.57H499.60" stroke="#141414" stroke-width="1.05" fill="none"/>
<text x="495.00" y="420.67" font-size="6.6" text-anchor="middle">a, c</text>
<text x="495.00" y="435.65" font-size="7.1" text-anchor="middle">d</text>
<text x="495.00" y="445.30" font-size="7.1" text-anchor="middle" textLength="11.8" lengthAdjust="spacingAndGlyphs">IDD</text>
<text x="495.00" y="454.95" font-size="7.1" text-anchor="middle" textLength="16.9" lengthAdjust="spacingAndGlyphs">+iron</text>
<text x="495.00" y="464.60" font-size="7.1" text-anchor="middle" textLength="16.4" lengthAdjust="spacingAndGlyphs">+LPS</text>
<path d="M393.30 343.00V426.10" stroke="#161616" stroke-width="1.35" fill="none"/>
<path d="M390.30 426.10H513.00" stroke="#161616" stroke-width="1.35" fill="none"/>
<rect x="402.70" y="391.39" width="18.0" height="35.01" fill="#a50026" stroke="#7a001e" stroke-width="0.45"/>
<rect x="430.60" y="424.90" width="18.0" height="1.50" fill="#2e4a7c" stroke="#16284f" stroke-width="0.45"/>
<rect x="458.20" y="367.31" width="18.0" height="59.09" fill="#6aa842" stroke="#4f8f2c" stroke-width="0.45"/>
<rect x="486.00" y="424.70" width="18.0" height="1.70" fill="#522661" stroke="#36134a" stroke-width="0.45"/>
<path d="M393.30 399.43H513.00" stroke="#0a0a0a" stroke-width="1.05" stroke-dasharray="3.1 2.3" stroke-dashoffset="1.8" fill="none"/>
<path d="M390.30 426.10H393.30" stroke="#161616" stroke-width="1.1" fill="none"/>
<text x="387.70" y="428.60" font-size="7.0" text-anchor="end">0</text>
<path d="M390.30 399.43H393.30" stroke="#161616" stroke-width="1.1" fill="none"/>
<text x="387.70" y="401.93" font-size="7.0" text-anchor="end">1</text>
<path d="M390.30 372.77H393.30" stroke="#161616" stroke-width="1.1" fill="none"/>
<text x="387.70" y="375.27" font-size="7.0" text-anchor="end">2</text>
<path d="M390.30 346.10H393.30" stroke="#161616" stroke-width="1.1" fill="none"/>
<text x="387.70" y="348.60" font-size="7.0" text-anchor="end">3</text>
<text transform="translate(366.10 385.00) rotate(-90)" font-size="8.5" text-anchor="middle" textLength="91.4" lengthAdjust="spacingAndGlyphs">Fpn (-IRE)/Rpl19 mRNA</text>
<text transform="translate(377.10 385.00) rotate(-90)" font-size="8.5" text-anchor="middle" textLength="62.3" lengthAdjust="spacingAndGlyphs">(fold induction)</text>
<text x="497.30" y="388.33" font-size="7" text-anchor="middle" textLength="27.7" lengthAdjust="spacingAndGlyphs">standard</text>
<text x="497.30" y="397.03" font-size="7" text-anchor="middle">diet</text>
</g>
<path d="M0.6 0V472" stroke="#000" stroke-width="1.4"/>
<path d="M0 0.6H520" stroke="#000" stroke-width="1.3"/>
<path d="M519.1 0V472" stroke="#000" stroke-width="1.8"/>
<path d="M0 471.2H520" stroke="#000" stroke-width="1.6"/>
</svg>
</body></html>
